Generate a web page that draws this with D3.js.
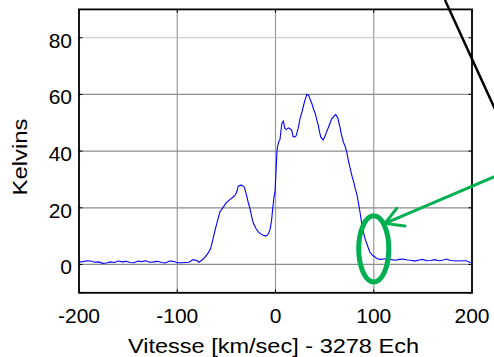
<!DOCTYPE html>
<html><head><meta charset="utf-8">
<script src="https://cdn.jsdelivr.net/npm/d3@7"></script>
<style>html,body{margin:0;padding:0;background:#fff;overflow:hidden}</style>
</head><body>
<script>
const velocity = [-200,-196,-192,-188,-184,-180,-176,-172,-168,-164,-160,-156,-152,-148,-144,-140,-136,-132,-128,-124,-120,-116,-112,-108,-104,-100,-96,-92,-88,-84,-80,-78,-75,-72,-69,-66,-63.5,-61.5,-59,-56.5,-53,-50,-46.5,-43,-41,-39,-38,-36,-34.5,-32,-31,-29.5,-27.5,-26,-24,-22.5,-20,-17.5,-15,-12.5,-10,-8.5,-7,-5.5,-4,-3,-1.5,-0.5,0.5,1.5,2,3.5,4.5,5.5,6.5,8,9.5,11,13,15,16.5,18,20,21,23,25,27,28.5,30,32,34,35.5,37,39,40.5,42,43.5,45,46,48.5,50.5,52,54,55.5,57,59,61,62,63.5,65.5,67,69,71,72.5,74,76,78,79.5,81,83,85,86,88,89.5,91,93,96,98.5,101,104,107,110,114,118,122,126,130,134,138,142,146,150,154,158,162,166,170,174,178,182,186,190,194,197,200];
const kelvins = [0.9,1.0,1.3,1.2,0.8,0.9,0.4,0.5,0.9,0.7,1.2,0.9,1.1,0.7,0.6,1.2,1.0,1.3,0.8,0.9,1.1,0.7,0.5,1.2,1.1,0.6,0.6,0.7,0.8,1.7,1.4,0.8,1.5,2.5,3.8,5.6,9.2,12.1,15.5,18.6,20.3,21.8,22.9,23.8,24.5,26,27.6,27.9,28.0,27.4,26.5,24.5,21.5,19.8,16.5,14.5,12.8,11.5,10.8,10.3,10.0,10.3,11.0,12.4,15.5,19.2,23.9,25.5,32.7,40,41.5,43.5,44.0,47,49.8,50.6,48.0,47.6,48.2,47.8,47.4,45.0,45.1,45.4,48.0,51.5,53.9,56,58.0,60.0,59.5,58,56.8,54.5,53.3,51,49.2,46.5,45.0,43.9,45.3,46.8,48.5,49.8,51.3,52.1,52.9,52.6,51.5,48.6,46,43.3,41.5,39.7,37,33.9,31,29.2,27,24.5,20.5,18.5,13.9,11.5,9.2,7.2,4.4,3.3,2.7,1.9,1.8,1.9,2.0,1.7,1.5,1.8,1.9,1.6,1.5,1.2,1.6,1.8,1.3,1.4,1.7,1.3,1.5,1.9,1.4,1.3,1.2,1.3,1.3,0.9,0.6];
const xTicks = [-200,-100,0,100,200];
const yTicks = [0,20,40,60,80];
const xLabel = "Vitesse [km/sec] - 3278 Ech";
const yLabel = "Kelvins";
// annotations in data units
const ellipseCenter = [100, 5.5];
const ellipseRadii = [15.3, 11.65];
const arrowLine = [[233.6, 32.6],[111.5, 14.5]];
const arrowHeadA = [123.4, 19.8];
const arrowHeadB = [131.8, 13.6];
const blackLine = [[172.5, 93.3],[228.5, 50.9]];

const W = 494, H = 357;
const svg = d3.select("body").append("svg").attr("width", W).attr("height", H)
  .style("font-family", "Arial, 'Liberation Sans', sans-serif");
const x = d3.scaleLinear().domain([-200,200]).range([79,472]);
const y = d3.scaleLinear().domain([-10,90]).range([292.8,9.4]);

// grid
const g = svg.append("g");
g.selectAll(".vg").data(xTicks.filter(d => d > -200 && d < 200)).join("line")
  .attr("x1", d => x(d)).attr("x2", d => x(d)).attr("y1", y(-10)).attr("y2", y(90))
  .attr("stroke", "#9a9a9a").attr("stroke-width", 1.2);
g.selectAll(".hg").data(yTicks).join("line")
  .attr("x1", x(-200)).attr("x2", x(200)).attr("y1", d => y(d)).attr("y2", d => y(d))
  .attr("stroke", d => d === 80 ? "#c2c2c2" : "#8c8c8c").attr("stroke-width", 1.2);

// data line
const line = d3.line().x((d,i) => x(velocity[i])).y(d => y(d));
svg.append("path").datum(kelvins).attr("d", line)
  .attr("fill", "none").attr("stroke", "#0000ff").attr("stroke-width", 1.1);

// inner ticks
const tk = svg.append("g").attr("stroke", "#000").attr("stroke-width", 1);
xTicks.forEach(d => {
  tk.append("line").attr("x1", x(d)).attr("x2", x(d)).attr("y1", y(-10)).attr("y2", y(-10)-3.5);
  tk.append("line").attr("x1", x(d)).attr("x2", x(d)).attr("y1", y(90)).attr("y2", y(90)+3.5);
});
[-10].concat(yTicks).forEach(d => {
  tk.append("line").attr("x1", x(-200)).attr("x2", x(-200)+3.5).attr("y1", y(d)).attr("y2", y(d));
  tk.append("line").attr("x1", x(200)).attr("x2", x(200)-3.5).attr("y1", y(d)).attr("y2", y(d));
});

// frame
svg.append("rect").attr("x", x(-200)).attr("y", y(90)).attr("width", x(200)-x(-200))
  .attr("height", y(-10)-y(90)).attr("fill", "none").attr("stroke", "#000").attr("stroke-width", 1.8);

// tick labels
svg.selectAll(".xt").data(xTicks).join("text")
  .attr("x", d => x(d)).attr("y", 323).attr("text-anchor", "middle")
  .attr("font-size", 21).attr("fill", "#000").text(d => d);
svg.selectAll(".yt").data(yTicks).join("text")
  .attr("x", 72).attr("y", d => y(d) + 10).attr("text-anchor", "end")
  .attr("font-size", 21).attr("fill", "#000").text(d => d);

// axis labels
svg.append("text").attr("x", 273.5).attr("y", 352.5).attr("text-anchor", "middle")
  .attr("font-size", 20).attr("textLength", 291).attr("lengthAdjust", "spacingAndGlyphs")
  .attr("fill", "#000").text(xLabel);
svg.append("text").attr("transform", "translate(27,157) rotate(-90)").attr("text-anchor", "middle")
  .attr("font-size", 20).attr("textLength", 77).attr("lengthAdjust", "spacingAndGlyphs")
  .attr("fill", "#000").text(yLabel);

// annotations
svg.append("line").attr("x1", x(blackLine[0][0])).attr("y1", y(blackLine[0][1]))
  .attr("x2", x(blackLine[1][0])).attr("y2", y(blackLine[1][1]))
  .attr("stroke", "#000").attr("stroke-width", 2.5);
const green = "#00b050";
svg.append("ellipse").attr("cx", x(ellipseCenter[0])).attr("cy", y(ellipseCenter[1]))
  .attr("rx", x(ellipseCenter[0]+ellipseRadii[0]) - x(ellipseCenter[0]))
  .attr("ry", y(ellipseCenter[1]) - y(ellipseCenter[1]+ellipseRadii[1]))
  .attr("fill", "none").attr("stroke", green).attr("stroke-width", 5);
svg.append("line").attr("x1", x(arrowLine[0][0])).attr("y1", y(arrowLine[0][1]))
  .attr("x2", x(arrowLine[1][0])).attr("y2", y(arrowLine[1][1]))
  .attr("stroke", green).attr("stroke-width", 3);
svg.append("path")
  .attr("d", d3.line()([[x(arrowHeadA[0]), y(arrowHeadA[1])],[x(arrowLine[1][0]), y(arrowLine[1][1])],[x(arrowHeadB[0]), y(arrowHeadB[1])]]))
  .attr("fill", "none").attr("stroke", green).attr("stroke-width", 3).attr("stroke-linecap", "round");
</script>
</body></html>
